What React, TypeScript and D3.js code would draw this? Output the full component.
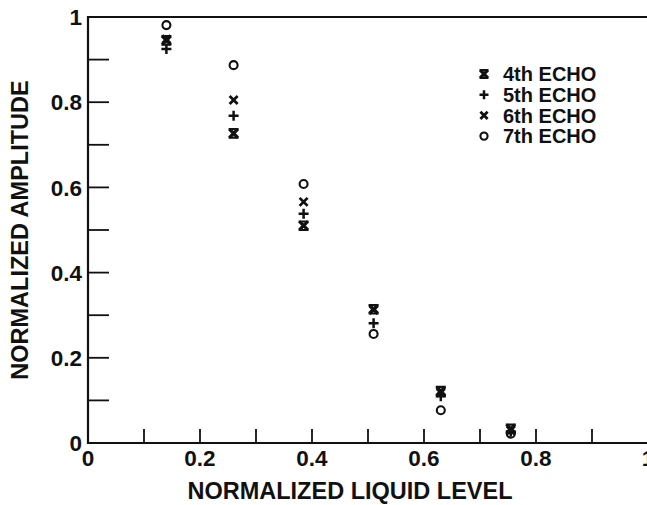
import React, { useEffect, useRef } from 'react';
import * as d3 from 'd3';

const levels = [0.14, 0.26, 0.385, 0.51, 0.63, 0.755];
const echo4 = [0.945, 0.727, 0.51, 0.314, 0.122, 0.033];
const echo5 = [0.925, 0.768, 0.538, 0.281, 0.11, 0.027];
const echo6 = [0.948, 0.805, 0.566, 0.312, 0.118, 0.03];
const echo7 = [0.981, 0.887, 0.608, 0.256, 0.077, 0.022];

const seriesNames = ['4th ECHO', '5th ECHO', '6th ECHO', '7th ECHO'];
const seriesValues = [echo4, echo5, echo6, echo7];
const seriesMarks = ['hourglass', 'plus', 'cross', 'circle'];

const tickValues = [0, 0.1, 0.2, 0.3, 0.4, 0.5, 0.6, 0.7, 0.8, 0.9, 1];
const labelValues = [0, 0.2, 0.4, 0.6, 0.8, 1];

const W = 647;
const H = 505;
const FONT = '"Liberation Sans", Arial, Helvetica, sans-serif';

const drawMark = (g: any, kind: string, s: number) => {
  const h = s / 2;
  if (kind === 'circle') {
    g.append('circle').attr('r', h * 0.8).attr('fill', 'none')
      .attr('stroke', '#111').attr('stroke-width', 2.1);
  } else if (kind === 'plus') {
    g.append('path').attr('d', `M${-h},0H${h}M0,${-h}V${h}`)
      .attr('stroke', '#111').attr('stroke-width', 2.5).attr('fill', 'none');
  } else if (kind === 'cross') {
    const c = h * 0.8;
    g.append('path').attr('d', `M${-c},${-c}L${c},${c}M${c},${-c}L${-c},${c}`)
      .attr('stroke', '#111').attr('stroke-width', 2.8).attr('fill', 'none');
  } else {
    const c = h * 0.85;
    g.append('path').attr('d', `M${-c},${-c}L${c},${c}M${c},${-c}L${-c},${c}`)
      .attr('stroke', '#111').attr('stroke-width', 3.2).attr('fill', 'none');
    g.append('path').attr('d', `M${-h},${-c}H${h}M${-h},${c}H${h}`)
      .attr('stroke', '#111').attr('stroke-width', 2.2).attr('fill', 'none');
  }
};

const App = () => {
  const ref = useRef<SVGSVGElement>(null);

  useEffect(() => {
    const svg = d3.select(ref.current);
    svg.selectAll('*').remove();

    const x = d3.scaleLinear().domain([0, 1]).range([88, 648]);
    const y = d3.scaleLinear().domain([0, 1]).range([443, 17]);

    const axes = svg.append('g').attr('stroke', '#111').attr('fill', 'none');
    // frame: left, bottom, top (right edge is cut off)
    axes.append('path')
      .attr('d', `M${x(1)},${y(1)}H${x(0)}V${y(0)}H${x(1)}`)
      .attr('stroke-width', 2.2);

    axes.selectAll('.xt')
      .data(tickValues.slice(1))
      .join('line')
      .attr('x1', d => x(d)).attr('x2', d => x(d))
      .attr('y1', y(0)).attr('y2', y(0) - 14)
      .attr('stroke-width', 1.8);

    axes.selectAll('.yt')
      .data(tickValues.slice(1, -1))
      .join('line')
      .attr('x1', x(0)).attr('x2', x(0) + 21)
      .attr('y1', d => y(d)).attr('y2', d => y(d))
      .attr('stroke-width', 1.8);

    const fmt = (d: number) => (d === 0 || d === 1 ? String(d) : d3.format('.1f')(d));

    svg.append('g')
      .attr('font-family', FONT).attr('font-weight', 'bold').attr('font-size', 22.5)
      .attr('fill', '#111').attr('text-anchor', 'middle')
      .selectAll('text')
      .data(labelValues)
      .join('text')
      .attr('x', d => x(d)).attr('y', 466)
      .text(fmt);

    svg.append('g')
      .attr('font-family', FONT).attr('font-weight', 'bold').attr('font-size', 22.5)
      .attr('fill', '#111').attr('text-anchor', 'end')
      .selectAll('text')
      .data(labelValues)
      .join('text')
      .attr('x', 82).attr('y', d => y(d)).attr('dy', '0.36em')
      .text(fmt);

    svg.append('text')
      .attr('x', 350).attr('y', 499)
      .attr('font-family', FONT).attr('font-weight', 'bold').attr('font-size', 23.5)
      .attr('text-anchor', 'middle').attr('fill', '#111')
      .text('NORMALIZED LIQUID LEVEL');

    svg.append('text')
      .attr('transform', 'translate(28,230) rotate(-90)')
      .attr('font-family', FONT).attr('font-weight', 'bold').attr('font-size', 23.5)
      .attr('text-anchor', 'middle').attr('fill', '#111')
      .text('NORMALIZED AMPLITUDE');

    seriesValues.forEach((vals, i) => {
      const g = svg.append('g');
      vals.forEach((v, j) => {
        const m = g.append('g').attr('transform', `translate(${x(levels[j])},${y(v)})`);
        drawMark(m, seriesMarks[i], 10);
      });
    });

    const legend = svg.append('g').attr('transform', 'translate(484,74)');
    seriesNames.forEach((name, i) => {
      const row = legend.append('g').attr('transform', `translate(0,${i * 20.7})`);
      drawMark(row.append('g'), seriesMarks[i], 9);
      row.append('text')
        .attr('x', 19).attr('dy', '0.36em')
        .attr('font-family', FONT).attr('font-weight', 'bold').attr('font-size', 20)
        .attr('fill', '#111')
        .text(name);
    });
  }, []);

  return (
    <svg
      ref={ref}
      width={W}
      height={H}
      style={{ position: 'absolute', left: 0, top: 0, background: '#fff', display: 'block' }}
    />
  );
};

export default App;
